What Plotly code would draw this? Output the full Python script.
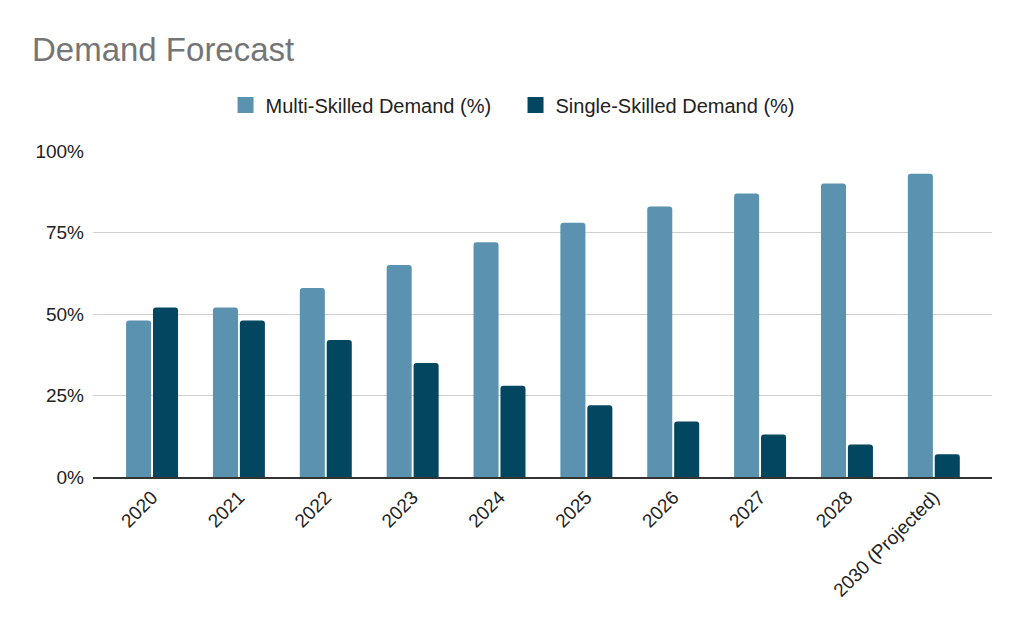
import plotly.graph_objects as go

categories = ["2020", "2021", "2022", "2023", "2024", "2025", "2026", "2027", "2028", "2030 (Projected)"]
multi_skilled = [48, 52, 58, 65, 72, 78, 83, 87, 90, 93]
single_skilled = [52, 48, 42, 35, 28, 22, 17, 13, 10, 7]
series_names = ["Multi-Skilled Demand (%)", "Single-Skilled Demand (%)"]
series_colors = ["#5a92b0", "#02465f"]
y_ticks = [0, 25, 50, 75, 100]
y_tick_labels = ["0%", "25%", "50%", "75%", "100%"]

FONT = "Liberation Sans, Arial, sans-serif"

fig = go.Figure()
for name, vals, col in zip(series_names, [multi_skilled, single_skilled], series_colors):
    fig.add_trace(go.Bar(name=name, x=categories, y=vals, showlegend=False,
                         marker=dict(color=col, line=dict(width=0))))
# legend entries with larger square swatches
for name, col in zip(series_names, series_colors):
    fig.add_trace(go.Scatter(name=name, x=[None], y=[None], mode="markers",
                             marker=dict(symbol="square", size=16, color=col, line=dict(width=0)),
                             hoverinfo="skip"))

fig.update_layout(
    width=1016, height=625,
    paper_bgcolor="white", plot_bgcolor="white",
    margin=dict(l=85, r=32, t=143, b=156),
    barmode="group", bargap=0.38, bargroupgap=0.07, barcornerradius=3,
    font=dict(family=FONT, color="#222222", size=19),
    title=dict(text="Demand Forecast", x=0.0236, xanchor="left", y=0.933, yanchor="middle",
               font=dict(family=FONT, size=33, color="#757575")),
    legend=dict(orientation="h", x=0.470, xanchor="center", y=1.141, yanchor="middle",
                font=dict(size=20, color="#222222"), traceorder="normal", itemsizing="trace",
                entrywidth=245, entrywidthmode="pixels"),
    showlegend=True,
)
fig.update_xaxes(type="category", range=[-0.68, 9.67], tickangle=-45,
                 showline=True, linecolor="#333333", linewidth=1.5,
                 showgrid=False, ticks="", tickfont=dict(size=19, color="#222222"))
fig.update_yaxes(range=[0, 100], tickvals=y_ticks, ticktext=y_tick_labels,
                 showgrid=True, gridcolor="#d0d0d0", gridwidth=1.2, zeroline=False,
                 ticks="", ticklabelstandoff=8, tickfont=dict(size=19, color="#222222"))

fig.write_html("out.html")
